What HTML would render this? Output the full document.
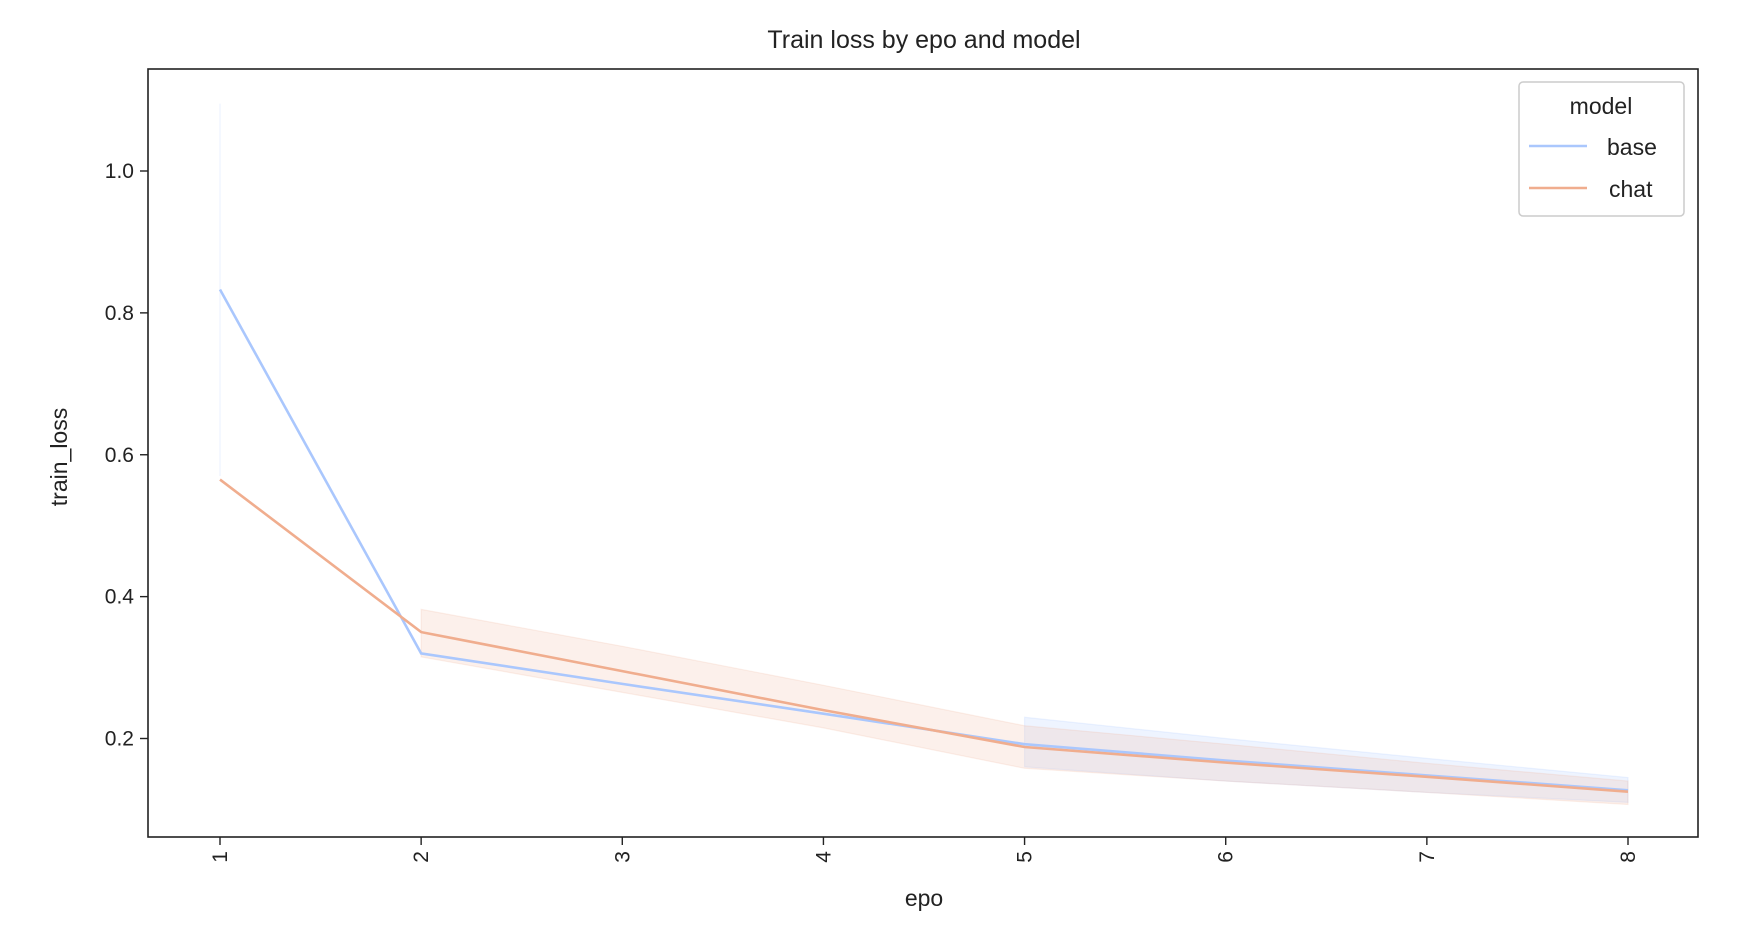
<!DOCTYPE html>
<html><head><meta charset="utf-8"><style>
body{margin:0;background:#fff;}
svg{display:block;font-family:"Liberation Sans","DejaVu Sans",sans-serif;}
</style></head><body>
<svg id="chart" width="1744" height="928" viewBox="0 0 1744 928"></svg>
<script>
const categories=[1,2,3,4,5,6,7,8];
const baseValues=[0.833,0.320,0.277,0.235,0.192,0.169,0.148,0.127];
const baseLower=[0.57,null,null,null,0.160,0.140,0.124,0.110];
const baseUpper=[1.095,null,null,null,0.230,0.200,0.172,0.145];
const chatValues=[0.565,0.350,0.295,0.240,0.188,0.166,0.146,0.125];
const chatLower=[null,0.315,0.265,0.215,0.158,0.140,0.124,0.107];
const chatUpper=[null,0.382,0.330,0.275,0.218,0.192,0.165,0.140];
const yTicks=[0.2,0.4,0.6,0.8,1.0];
const yTickLabels=["0.2","0.4","0.6","0.8","1.0"];

const NS="http://www.w3.org/2000/svg";
const svg=document.getElementById('chart');
const L=148,R=1698,T=69,B=837;
const x=i=>220+i*(1628-220)/7;
const y=v=>738.5-(v-0.2)*(738.5-171)/0.8;
function mk(tag,attrs,parent){const e=document.createElementNS(NS,tag);for(const k in attrs)e.setAttribute(k,attrs[k]);(parent||svg).appendChild(e);return e;}

function band(lo,hi,color,name){
  // split into contiguous segments of defined values
  let segs=[],cur=[];
  categories.forEach((c,i)=>{if(lo[i]!==null&&hi[i]!==null)cur.push(i);else{if(cur.length)segs.push(cur);cur=[];}});
  if(cur.length)segs.push(cur);
  segs.forEach(s=>{
    let d='M'+s.map(i=>x(i)+','+y(hi[i])).join('L');
    for(let k=s.length-1;k>=0;k--)d+='L'+x(s[k])+','+y(lo[s[k]]);
    const p=mk('path',{d:d+'Z',fill:color,'fill-opacity':0.2,stroke:color,'stroke-opacity':0.2,'stroke-width':1.2});
    
    
  });
}
function line(vals,color,name){
  const p=mk('polyline',{points:vals.map((v,i)=>x(i)+','+y(v)).join(' '),fill:'none',stroke:color,'stroke-width':2.6});
  
  
}
band(baseLower,baseUpper,'#aac7fd','base-ci-band');
band(chatLower,chatUpper,'#f2b69a','chat-ci-band');
line(baseValues,'#aac7fd','base-line');
line(chatValues,'#f0ad8e','chat-line');

const frame=mk('rect',{x:L,y:T,width:R-L,height:B-T,fill:'none',stroke:'#222','stroke-width':1.6});



categories.forEach((c,i)=>{
  mk('line',{x1:x(i),x2:x(i),y1:B,y2:B+8,stroke:'#222','stroke-width':1.4});
  const t=mk('text',{x:0,y:0,transform:`translate(${x(i)+7},${B+14}) rotate(-90)`,'text-anchor':'end','font-size':21,fill:'#222'});
  t.textContent=c;
  
  
});
yTicks.forEach((v,i)=>{
  mk('line',{x1:L-8,x2:L,y1:y(v),y2:y(v),stroke:'#222','stroke-width':1.4});
  const t=mk('text',{x:L-14,y:y(v)+7,'text-anchor':'end','font-size':21,fill:'#222'});
  t.textContent=yTickLabels[i];
  
  
});
</script>
<svg style="position:absolute;left:0;top:0" width="1744" height="928">
<text x="924" y="48" text-anchor="middle" font-size="25" fill="#222" font-family="Liberation Sans, sans-serif">Train loss by epo and model</text>
<text x="924" y="906" text-anchor="middle" font-size="23" fill="#222" font-family="Liberation Sans, sans-serif">epo</text>
<text transform="translate(67,457) rotate(-90)" text-anchor="middle" font-size="23" fill="#222" font-family="Liberation Sans, sans-serif">train_loss</text>
<g font-family="Liberation Sans, sans-serif" font-size="23" fill="#222">
<rect x="1519" y="82" width="165" height="134" rx="4" fill="#fff" fill-opacity="0.8" stroke="#ccc" stroke-width="1.5"/>
<text x="1601" y="114" text-anchor="middle">model</text>
<line x1="1529" x2="1587" y1="146" y2="146" stroke="#aac7fd" stroke-width="2.6"/>
<text x="1607" y="155">base</text>
<line x1="1529" x2="1587" y1="188" y2="188" stroke="#f0ad8e" stroke-width="2.6"/>
<text x="1609" y="197">chat</text>
</g>
</svg>
</body></html>
